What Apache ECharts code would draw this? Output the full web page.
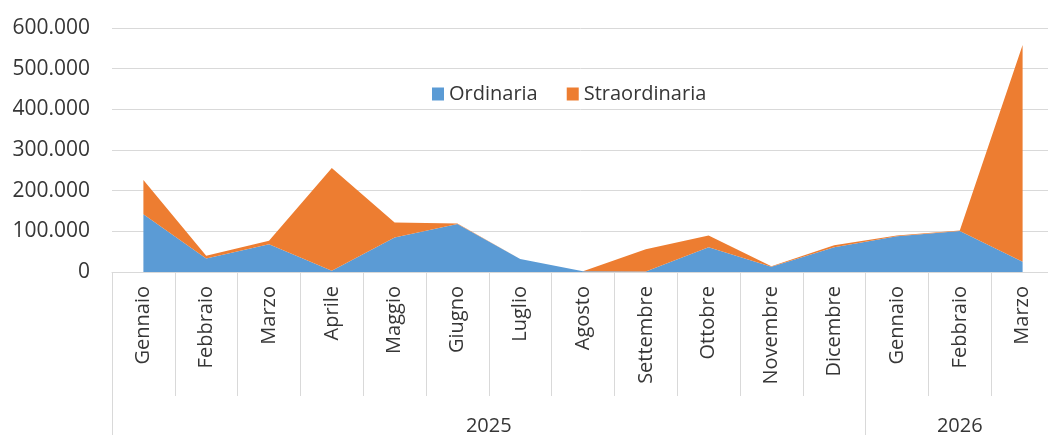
<!DOCTYPE html>
<html>
<head>
<meta charset="utf-8">
<script src="https://cdn.jsdelivr.net/npm/echarts@6/dist/echarts.min.js"></script>
<style>
html,body{margin:0;padding:0;background:#fff;}
#chart{width:1048px;height:435px;}
</style>
</head>
<body>
<div id="chart"></div>
<script>
var months = ['Gennaio','Febbraio','Marzo','Aprile','Maggio','Giugno','Luglio','Agosto','Settembre','Ottobre','Novembre','Dicembre','Gennaio','Febbraio','Marzo'];
var ordinaria = [142000, 33000, 68000, 3000, 85000, 118000, 32000, 2000, 1000, 61000, 13000, 61000, 88000, 101000, 25000];
var straordinaria = [84000, 7000, 9000, 253000, 37000, 1000, 0, 0, 55000, 29000, 1000, 5000, 2000, 1000, 533000];
var years = ['2025', '2026'];
var monthsPerYear = [12, 3];
var yTicks = [0, 100000, 200000, 300000, 400000, 500000, 600000];

// year axis built from half-month positions
var halfCount = months.length * 2 + 1;
var yearAxisData = [];
for (var i = 0; i < halfCount; i++) yearAxisData.push('');
var boundaries = [];
var start = 0;
for (var y = 0; y < years.length; y++) {
  boundaries.push(start * 2);
  yearAxisData[start * 2 + monthsPerYear[y]] = years[y];
  start += monthsPerYear[y];
}
boundaries.push(start * 2);

function fmt(v) {
  return String(v).replace(/\B(?=(\d{3})+(?!\d))/g, '.');
}

var textColor = '#363636';
var font = 'Open Sans';
var chart = echarts.init(document.getElementById('chart'));
chart.setOption({
  animation: false,
  textStyle: { fontFamily: font },
  legend: {
    left: 432,
    top: 84,
    padding: 0,
    itemWidth: 12,
    itemHeight: 13,
    itemGap: 29,
    icon: 'rect',
    textStyle: { fontFamily: font, fontSize: 20, color: textColor },
    data: ['Ordinaria', 'Straordinaria']
  },
  grid: { left: 112, right: -6, top: 28, bottom: 163, containLabel: false, outerBoundsMode: 'none' },
  xAxis: [
    {
      type: 'category',
      data: months,
      boundaryGap: true,
      axisLine: { show: true, lineStyle: { color: '#d9d9d9', width: 1 } },
      axisTick: { show: true, length: 124, interval: 0, alignWithLabel: false, lineStyle: { color: '#d9d9d9', width: 1 } },
      axisLabel: { interval: 0, rotate: 90, margin: 14, fontFamily: font, fontSize: 20, color: textColor },
      splitLine: { show: false }
    },
    {
      type: 'category',
      data: yearAxisData,
      boundaryGap: false,
      position: 'bottom',
      offset: 123,
      axisLine: { show: false },
      axisTick: {
        show: true, length: 40,
        interval: function (idx) { return boundaries.indexOf(idx) >= 0; },
        lineStyle: { color: '#d9d9d9', width: 1 }
      },
      axisLabel: { interval: 0, margin: 21, fontFamily: font, fontSize: 20, color: textColor },
      splitLine: { show: false }
    }
  ],
  yAxis: {
    type: 'value',
    min: yTicks[0],
    max: yTicks[yTicks.length - 1],
    interval: yTicks[1] - yTicks[0],
    axisLine: { show: false },
    axisTick: { show: false },
    axisLabel: { margin: 22, fontFamily: font, fontSize: 21, color: textColor, formatter: fmt },
    splitLine: { lineStyle: { color: '#d9d9d9', width: 1 } }
  },
  series: [
    {
      name: 'Ordinaria',
      type: 'line',
      stack: 'total',
      data: ordinaria,
      showSymbol: false,
      symbol: 'none',
      lineStyle: { width: 0 },
      itemStyle: { color: '#5B9BD5' },
      areaStyle: { color: '#5B9BD5', opacity: 1 }
    },
    {
      name: 'Straordinaria',
      type: 'line',
      stack: 'total',
      data: straordinaria,
      showSymbol: false,
      symbol: 'none',
      lineStyle: { width: 0 },
      itemStyle: { color: '#ED7D31' },
      areaStyle: { color: '#ED7D31', opacity: 1 }
    }
  ]
});
</script>
</body>
</html>
